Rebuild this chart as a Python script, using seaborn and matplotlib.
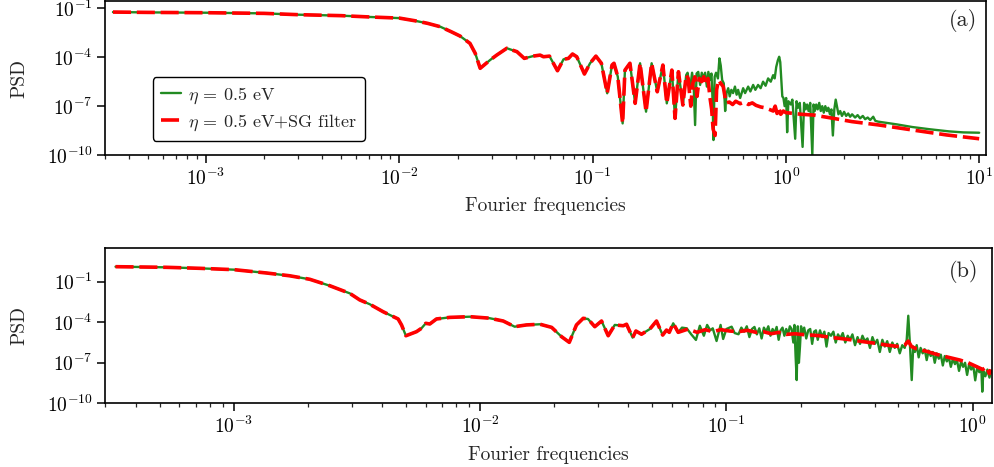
import numpy as np
import pandas as pd
import matplotlib
matplotlib.use("Agg")
import matplotlib.pyplot as plt
import seaborn as sns
from matplotlib.ticker import FixedLocator, LogLocator, NullFormatter, NullLocator

# ---------------- data ----------------
# Panel (a): part where raw and filtered spectra coincide
freq_a_common = [3.30e-4, 5.0e-4, 1.0e-3, 2.0e-3, 3.0e-3, 5.0e-3, 7.0e-3, 1.0e-2, 1.2e-2, 1.4e-2,
                 1.63e-2, 1.85e-2, 2.06e-2, 2.32e-2, 2.47e-2, 2.62e-2, 2.95e-2, 3.19e-2, 3.60e-2, 4.06e-2,
                 4.43e-2, 4.92e-2, 5.35e-2, 5.57e-2, 5.98e-2, 6.58e-2, 7.07e-2, 7.50e-2, 7.87e-2, 8.28e-2,
                 9.07e-2, 9.70e-2, 1.04e-1, 1.11e-1, 1.19e-1, 1.26e-1, 1.29e-1, 1.35e-1, 1.43e-1, 1.47e-1,
                 1.56e-1, 1.66e-1, 1.76e-1, 1.89e-1, 2.02e-1, 2.16e-1, 2.31e-1, 2.42e-1, 2.57e-1, 2.67e-1,
                 2.78e-1, 2.93e-1, 3.05e-1]
psd_a_common = [5.89e-2, 5.62e-2, 5.37e-2, 4.90e-2, 4.07e-2, 3.55e-2, 2.95e-2, 2.51e-2, 1.74e-2, 1.20e-2,
                7.41e-3, 3.72e-3, 2.00e-3, 7.08e-4, 1.74e-4, 2.09e-5, 6.76e-5, 1.35e-4, 3.55e-4, 2.19e-4,
                8.51e-5, 1.17e-4, 1.35e-4, 1.07e-4, 1.17e-4, 1.48e-5, 7.41e-5, 8.51e-5, 1.58e-4, 1.07e-4,
                9.33e-6, 4.27e-5, 1.17e-4, 4.27e-5, 6.17e-7, 3.31e-5, 4.27e-5, 6.31e-6, 8.71e-9, 1.62e-5,
                4.27e-5, 1.48e-7, 4.27e-5, 4.57e-8, 4.27e-5, 7.59e-7, 3.31e-5, 1.48e-7, 1.62e-5, 1.78e-8,
                1.29e-5, 1.17e-7, 8.13e-6]

# Panel (a): raw spectrum (eta = 0.5 eV) beyond the common part
freq_a_raw = [0.310, 0.319, 0.327, 0.333, 0.339, 0.345, 0.352, 0.360, 0.367, 0.374, 0.382, 0.390, 0.397,
              0.405, 0.412, 0.417, 0.422, 0.428, 0.435, 0.445, 0.453, 0.460, 0.468, 0.477, 0.485, 0.493,
              0.503, 0.512, 0.522, 0.533, 0.545, 0.556, 0.566, 0.580, 0.601, 0.615, 0.638, 0.655, 0.677,
              0.695, 0.718, 0.740, 0.762, 0.785, 0.809, 0.835, 0.859, 0.875, 0.891, 0.908, 0.923, 0.935,
              0.945, 0.958, 0.971, 0.985, 1.003, 1.015, 1.03, 1.06, 1.08, 1.117, 1.135, 1.157, 1.18,
              1.22, 1.242, 1.265, 1.288, 1.31, 1.336, 1.37, 1.39, 1.41, 1.435, 1.46, 1.487, 1.515,
              1.542, 1.57, 1.599, 1.63, 1.657, 1.69, 1.72, 1.75, 1.78, 1.81, 1.837, 1.87, 1.91, 1.95,
              2.0, 2.05, 2.1, 2.15, 2.2, 2.28, 2.35, 2.42, 2.5, 2.57, 2.65, 2.73, 2.83, 2.9, 3.0,
              3.75, 4.5, 5.57, 7.0, 8.29, 10.0]
psd_a_raw = [1.12e-5, 1.0e-6, 1.12e-5, 2.51e-6, 6.92e-9, 1.0e-5, 1.26e-5, 2.0e-6, 1.12e-5, 5.01e-6,
             1.12e-5, 1.58e-6, 1.26e-5, 3.98e-6, 1.0e-5, 3.16e-7, 8.32e-10, 6.31e-6, 1.12e-5, 5.01e-6,
             8.51e-5, 3.16e-5, 3.98e-6, 2.51e-6, 5.01e-8, 6.31e-7, 1.26e-6, 3.98e-7, 1.0e-6, 6.31e-7,
             1.58e-6, 5.01e-7, 1.0e-6, 3.16e-7, 1.26e-6, 6.31e-7, 1.58e-6, 7.94e-7, 2.0e-6, 1.0e-6,
             2.0e-6, 1.26e-6, 3.16e-6, 1.78e-6, 5.01e-6, 3.16e-6, 7.94e-6, 5.01e-6, 2.51e-5, 6.31e-5,
             1.07e-4, 5.01e-5, 6.31e-6, 3.98e-7, 3.16e-7, 1.0e-7, 3.16e-7, 2.51e-9, 2.0e-7, 1.26e-7,
             2.51e-7, 1.0e-9, 2.0e-7, 7.94e-8, 1.58e-7, 3.16e-10, 1.58e-7, 6.31e-8, 1.26e-7, 5.01e-8,
             1.58e-7, 1.0e-10, 1.26e-7, 5.01e-8, 1.26e-7, 6.31e-8, 1.58e-7, 5.01e-8, 1.0e-7, 3.98e-8,
             1.0e-7, 5.01e-8, 7.94e-8, 3.16e-8, 6.31e-8, 1.58e-9, 6.31e-8, 2.51e-7, 1.0e-7, 3.16e-8,
             5.01e-8, 2.51e-8, 4.47e-8, 2.51e-8, 3.55e-8, 2.24e-8, 3.16e-8, 2.0e-8, 2.82e-8, 1.78e-8,
             2.51e-8, 1.58e-8, 2.0e-8, 1.41e-8, 2.24e-8, 1.26e-8, 1.12e-8, 7.59e-9, 5.25e-9, 3.80e-9,
             2.82e-9, 2.45e-9, 2.34e-9]

# Panel (a): filtered spectrum (eta = 0.5 eV + SG filter) beyond the common part
freq_a_sg = [0.312, 0.322, 0.330, 0.338, 0.347, 0.356, 0.366, 0.376, 0.386, 0.395, 0.405, 0.413, 0.420,
             0.430, 0.438, 0.448, 0.460, 0.474, 0.490, 0.51, 0.53, 0.55, 0.58, 0.61, 0.64, 0.67, 0.70,
             0.74, 0.78, 0.82, 0.86, 0.88, 0.90, 0.92, 0.94, 0.97, 1.0, 1.1, 1.2, 1.4, 1.8, 2.2, 3.0,
             4.5, 6.8, 10.0]
psd_a_sg = [5.01e-6, 1.0e-7, 2.51e-6, 6.31e-6, 3.98e-7, 5.01e-6, 3.16e-6, 6.31e-6, 2.0e-6, 5.01e-6,
            3.16e-7, 6.31e-8, 3.98e-9, 1.58e-9, 1.0e-6, 3.98e-6, 2.51e-6, 1.58e-6, 1.58e-7, 1.78e-7,
            1.26e-7, 2.0e-7, 1.41e-7, 1.78e-7, 1.26e-7, 1.58e-7, 1.12e-7, 8.91e-8, 7.94e-8, 6.31e-8,
            5.01e-8, 1.0e-7, 3.55e-8, 7.08e-8, 3.16e-8, 5.01e-8, 3.98e-8, 3.55e-8, 3.16e-8, 2.82e-8,
            1.70e-8, 1.12e-8, 7.08e-9, 3.47e-9, 1.70e-9, 1.0e-9]

# Panel (b): common part
freq_b_common = [3.30e-4, 5.31e-4, 7.26e-4, 1.0e-3, 1.36e-3, 1.68e-3, 2.03e-3, 2.45e-3, 2.95e-3, 3.24e-3,
                 3.56e-3, 4.03e-3, 4.29e-3, 4.64e-3, 4.79e-3, 4.99e-3, 5.51e-3, 5.77e-3, 6.01e-3, 6.24e-3,
                 6.64e-3, 7.52e-3, 9.07e-3, 1.09e-2, 1.24e-2, 1.38e-2, 1.54e-2, 1.75e-2, 1.95e-2, 2.14e-2,
                 2.30e-2, 2.46e-2, 2.62e-2, 2.74e-2, 2.92e-2, 3.11e-2, 3.31e-2, 3.52e-2, 3.81e-2, 3.93e-2,
                 4.16e-2, 4.29e-2, 4.52e-2, 4.89e-2, 5.20e-2, 5.51e-2, 5.71e-2, 5.86e-2, 6.08e-2, 6.37e-2]
psd_b_common = [1.29, 1.16, 0.977, 0.776, 0.437, 0.275, 0.151, 5.01e-2, 1.38e-2, 4.47e-3,
                2.14e-3, 6.03e-4, 3.47e-4, 1.74e-4, 6.31e-5, 1.0e-5, 2.0e-5, 3.55e-5, 8.32e-5, 7.41e-5,
                1.74e-4, 2.29e-4, 2.57e-4, 2.0e-4, 1.23e-4, 4.68e-5, 6.31e-5, 7.08e-5, 4.17e-5, 8.51e-6,
                3.24e-6, 6.31e-5, 1.95e-4, 1.74e-4, 4.68e-5, 1.23e-4, 1.0e-5, 6.31e-5, 5.50e-5, 7.08e-5,
                7.24e-6, 2.24e-5, 1.29e-5, 3.16e-5, 1.23e-4, 1.12e-5, 2.63e-5, 1.78e-5, 8.32e-5, 1.78e-5]

# Panel (b): raw spectrum beyond the common part
freq_b_raw = [0.066, 0.069, 0.072, 0.0752, 0.078, 0.081, 0.0835, 0.086, 0.088, 0.0912, 0.0947, 0.097,
              0.100, 0.105, 0.108, 0.112, 0.115, 0.118, 0.121, 0.124, 0.127, 0.130, 0.133, 0.136, 0.139,
              0.142, 0.145, 0.148, 0.151, 0.154, 0.157, 0.160, 0.163, 0.166, 0.169, 0.172, 0.175, 0.178,
              0.181, 0.184, 0.187, 0.189, 0.191, 0.193, 0.195, 0.197, 0.199, 0.201, 0.204, 0.207, 0.211,
              0.215, 0.219, 0.223, 0.227, 0.231, 0.235, 0.240, 0.245, 0.250, 0.255, 0.260, 0.266, 0.272,
              0.278, 0.284, 0.290, 0.297, 0.304, 0.311, 0.318, 0.325, 0.333, 0.341, 0.349, 0.357, 0.365,
              0.374, 0.383, 0.392, 0.401, 0.410, 0.420, 0.430, 0.440, 0.450, 0.461, 0.472, 0.483, 0.494,
              0.506, 0.518, 0.530, 0.540, 0.548, 0.556, 0.566, 0.574, 0.583, 0.593, 0.604, 0.615, 0.627,
              0.639, 0.651, 0.663, 0.676, 0.689, 0.702, 0.715, 0.729, 0.743, 0.757, 0.771, 0.786, 0.801,
              0.816, 0.832, 0.848, 0.864, 0.881, 0.898, 0.915, 0.932, 0.950, 0.968, 0.987, 1.006, 1.025,
              1.045, 1.065, 1.085, 1.095, 1.106, 1.127, 1.149, 1.171, 1.19]
psd_b_raw = [3.98e-5, 3.55e-5, 1.26e-5, 4.90e-6, 5.50e-5, 1.0e-5, 6.31e-5, 2.51e-5, 3.55e-5, 4.07e-6,
             6.31e-5, 5.75e-6, 3.16e-5, 4.68e-5, 1.58e-5, 1.29e-5, 3.98e-5, 2.0e-5, 5.01e-5, 7.94e-6,
             3.16e-5, 4.47e-5, 1.26e-5, 3.55e-5, 6.31e-6, 3.98e-5, 2.0e-5, 5.01e-5, 1.0e-5, 3.16e-5,
             1.58e-5, 4.47e-5, 5.01e-6, 2.51e-5, 3.98e-5, 1.0e-5, 3.16e-5, 1.26e-5, 5.01e-5, 3.16e-5,
             3.16e-6, 6.31e-5, 3.16e-7, 5.25e-9, 5.01e-5, 1.0e-7, 1.58e-6, 5.01e-5, 1.26e-5, 3.98e-5,
             6.31e-6, 2.51e-5, 3.16e-5, 2.51e-6, 2.0e-5, 2.51e-5, 5.01e-6, 2.51e-5, 7.94e-6, 2.0e-5,
             1.58e-6, 1.58e-5, 1.0e-5, 2.0e-5, 3.16e-6, 1.26e-5, 6.31e-6, 1.58e-5, 3.16e-6, 1.0e-5,
             5.01e-6, 1.26e-5, 2.0e-6, 7.94e-6, 2.51e-6, 1.0e-5, 3.98e-6, 6.31e-6, 1.26e-6, 7.94e-6,
             2.51e-6, 5.01e-6, 6.31e-7, 5.01e-6, 1.58e-6, 3.98e-6, 6.31e-7, 3.16e-6, 1.26e-6, 2.51e-6,
             5.01e-7, 2.0e-6, 1.26e-6, 5.01e-6, 3.02e-4, 3.16e-6, 5.25e-9, 1.58e-6, 6.31e-7, 2.0e-6,
             2.51e-7, 1.26e-6, 5.01e-7, 1.0e-6, 1.58e-7, 7.94e-7, 3.16e-7, 6.31e-7, 1.0e-7, 5.01e-7,
             2.0e-7, 3.98e-7, 6.31e-8, 3.16e-7, 1.26e-7, 2.51e-7, 5.01e-8, 2.0e-7, 7.94e-8, 1.58e-7,
             2.51e-8, 1.26e-7, 5.01e-8, 1.0e-7, 1.26e-8, 7.94e-8, 3.16e-8, 6.31e-8, 5.01e-9, 5.01e-8,
             2.0e-8, 3.98e-8, 7.24e-10, 2.51e-8, 1.0e-8, 3.16e-8, 7.94e-9, 2.51e-8]

# Panel (b): filtered spectrum beyond the common part
freq_b_sg = [0.070, 0.076, 0.082, 0.088, 0.095, 0.103, 0.112, 0.122, 0.132, 0.141, 0.152, 0.163, 0.175,
             0.19, 0.20, 0.22, 0.24, 0.26, 0.289, 0.32, 0.36, 0.40, 0.448, 0.507, 0.53, 0.548, 0.565,
             0.593, 0.65, 0.715, 0.80, 0.889, 0.96, 1.04, 1.10, 1.14, 1.17, 1.19]
psd_b_sg = [3.16e-5, 1.78e-5, 2.82e-5, 2.0e-5, 2.82e-5, 2.24e-5, 2.0e-5, 2.51e-5, 1.78e-5, 2.0e-5,
            1.41e-5, 1.78e-5, 1.26e-5, 1.41e-5, 1.26e-5, 1.12e-5, 1.0e-5, 7.94e-6, 6.31e-6, 5.01e-6,
            3.63e-6, 2.82e-6, 2.04e-6, 1.55e-6, 2.0e-6, 4.07e-6, 1.58e-6, 1.05e-6, 7.08e-7, 4.17e-7,
            2.51e-7, 1.58e-7, 1.0e-7, 5.13e-8, 3.16e-8, 5.01e-8, 1.58e-8, 3.16e-8]

label_raw = r"$\eta$ = 0.5 eV"
label_sg = r"$\eta$ = 0.5 eV+SG filter"
panel_tags = ["(a)", "(b)"]
xlabel = "Fourier frequencies"
ylabel = "PSD"
yticks = [1e-10, 1e-7, 1e-4, 1e-1]

# ---------------- style ----------------
sns.set_style("ticks")
plt.rcParams.update({
    "font.family": "serif",
    "font.serif": ["cmr10", "DejaVu Serif"],
    "mathtext.fontset": "cm",
    "axes.formatter.use_mathtext": True,
    "font.size": 14,
    "axes.linewidth": 1.2,
    "axes.edgecolor": "black",
})

GREEN = "#228B22"
RED = "#FF0000"

fig = plt.figure(figsize=(9.95, 4.67), dpi=100)
ax1 = fig.add_axes([0.1055, 0.668, 0.8851, 0.3298])
ax2 = fig.add_axes([0.1055, 0.1364, 0.8912, 0.3319])


def frame(freq, psd):
    return pd.DataFrame({"freq": freq, "psd": psd})


def draw(ax, f_common, p_common, f_raw, p_raw, f_sg, p_sg, legend):
    raw = frame(list(f_common) + list(f_raw), list(p_common) + list(p_raw))
    sg = frame(list(f_common) + list(f_sg), list(p_common) + list(p_sg))
    sns.lineplot(data=raw, x="freq", y="psd", ax=ax, color=GREEN, lw=1.7,
                 estimator=None, sort=False, label=label_raw if legend else None)
    sns.lineplot(data=sg, x="freq", y="psd", ax=ax, color=RED, lw=2.6,
                 estimator=None, sort=False, label=label_sg if legend else None)
    ax.lines[-1].set_dashes((5.0, 1.6))
    ax.set_xscale("log")
    ax.set_yscale("log")
    ax.yaxis.set_major_locator(FixedLocator(yticks))
    ax.yaxis.set_minor_locator(NullLocator())
    ax.xaxis.set_major_locator(LogLocator(base=10, numticks=20))
    ax.xaxis.set_minor_locator(LogLocator(base=10, subs=np.arange(2, 10), numticks=20))
    ax.xaxis.set_minor_formatter(NullFormatter())
    ax.tick_params(which="major", direction="out", length=5.5, width=1.1, labelsize=14, colors="black")
    ax.tick_params(which="minor", direction="out", length=3.2, width=0.9)
    ax.set_xlabel(xlabel, fontsize=14, labelpad=6)
    ax.set_ylabel(ylabel, fontsize=14, labelpad=13)
    for s in ax.spines.values():
        s.set_visible(True)
        s.set_linewidth(1.2)


draw(ax1, freq_a_common, psd_a_common, freq_a_raw, psd_a_raw, freq_a_sg, psd_a_sg, True)
draw(ax2, freq_b_common, psd_b_common, freq_b_raw, psd_b_raw, freq_b_sg, psd_b_sg, False)

ax1.set_xlim(3.0e-4, 10.8)
ax1.set_ylim(1e-10, 0.28)
ax2.set_xlim(2.99e-4, 1.196)
ax2.set_ylim(1e-10, 29.6)

leg = ax1.legend(loc="lower left", bbox_to_anchor=(0.054, 0.093), borderaxespad=0,
                 handlelength=1.1, handletextpad=0.4, fontsize=13, frameon=True,
                 fancybox=True, framealpha=1.0, edgecolor="black", borderpad=0.45,
                 labelspacing=0.35)
leg.get_frame().set_linewidth(1.0)

ax1.text(0.99, 0.945, panel_tags[0], transform=ax1.transAxes, ha="right", va="top", fontsize=16)
ax2.text(0.985, 0.925, panel_tags[1], transform=ax2.transAxes, ha="right", va="top", fontsize=16)

fig.savefig("out.png", dpi=100)
